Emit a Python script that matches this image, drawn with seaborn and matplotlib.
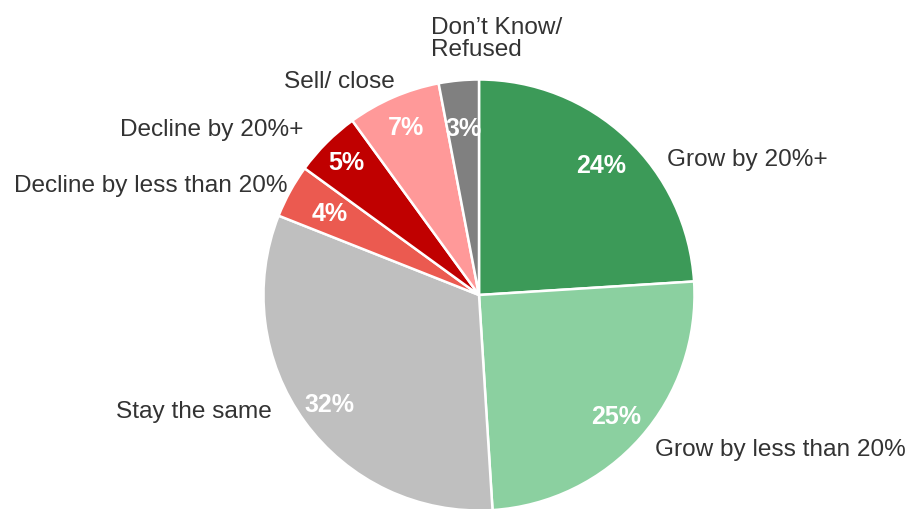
import matplotlib
matplotlib.use("Agg")
import numpy as np
import matplotlib.pyplot as plt
import seaborn as sns

# Survey answers, clockwise from 12 o'clock
categories = ["Grow by 20%+", "Grow by less than 20%", "Stay the same",
              "Decline by less than 20%", "Decline by 20%+", "Sell/ close",
              "Don\u2019t Know/\nRefused"]
shares = [24, 25, 32, 4, 5, 7, 3]
slice_colors = ["#3C9A58", "#8BD0A0", "#BFBFBF", "#EB5A50", "#C00000",
                "#FF9999", "#808080"]

# Category label anchors (pixel space of the 909x510 canvas) and alignment
label_layout = [
    (667, 160, "left", "center"),
    (655, 450, "left", "center"),
    (272, 412, "right", "center"),
    (288, 186, "right", "center"),
    (303, 130, "right", "center"),
    (395, 82, "right", "center"),
    (431, 39, "left", "center"),
]
# Radial placement of the percentage inside each wedge (fraction of radius)
pct_radius = [0.83, 0.85, 0.86, 0.79, 0.87, 0.85, 0.78]

sns.set_theme(style="white")
plt.rcParams["font.family"] = ["Liberation Sans", "DejaVu Sans"]

W, H = 909, 510
fig = plt.figure(figsize=(W / 100, H / 100), dpi=100)
ax = fig.add_axes([0, 0, 1, 1])

cx, cy, r = 479, H - 296, 215.5
palette = sns.color_palette(slice_colors)

wedges, _, autotexts = ax.pie(
    shares, colors=palette, startangle=90, counterclock=False,
    center=(cx, cy), radius=r, autopct="%d%%", pctdistance=0.83,
    labels=None, frame=True,
    wedgeprops=dict(edgecolor="white", linewidth=1.8),
    textprops=dict(color="white", fontsize=18, fontweight="bold"),
)
ax.set_xlim(0, W)
ax.set_ylim(0, H)
ax.set_axis_off()

for w, t, f in zip(wedges, autotexts, pct_radius):
    mid = np.deg2rad((w.theta1 + w.theta2) / 2)
    t.set_position((cx + f * r * np.cos(mid), cy + f * r * np.sin(mid)))

for name, (px, py, ha, va) in zip(categories, label_layout):
    ax.text(px, H - py, name, ha=ha, va=va, fontsize=17.6, color="#333333",
            linespacing=1.0)

fig.savefig("out.png", dpi=100)
